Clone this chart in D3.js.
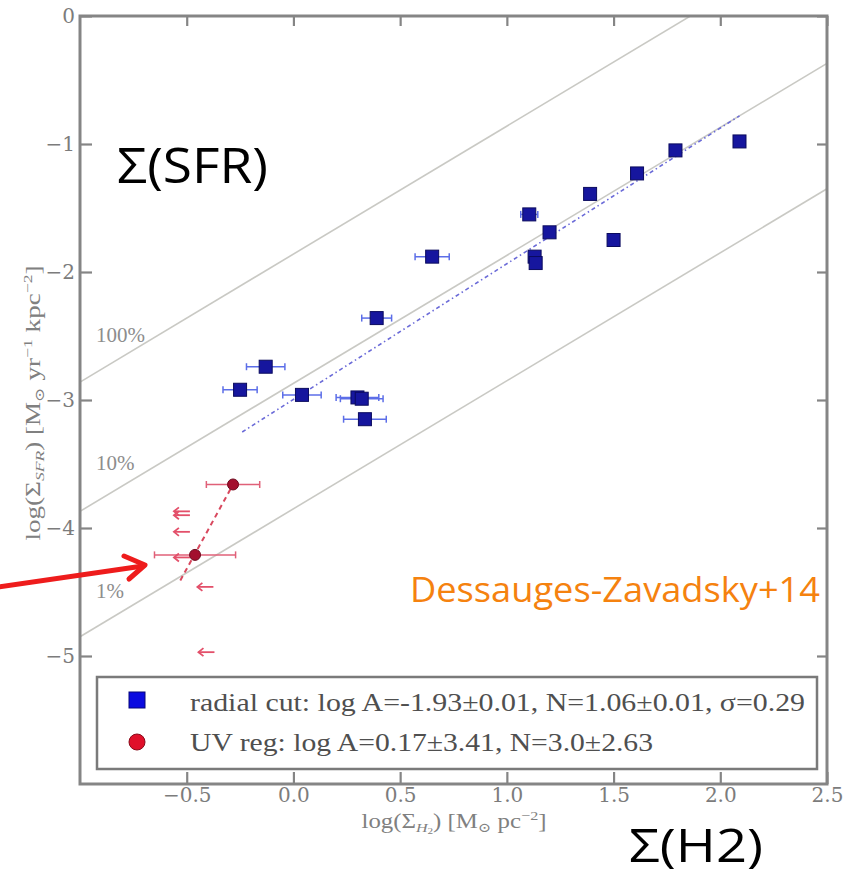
<!DOCTYPE html>
<html>
<head>
<meta charset="utf-8">
<script src="https://cdn.jsdelivr.net/npm/d3@7"></script>
<style>
  html, body { margin: 0; padding: 0; background: #ffffff; }
  svg { display: block; }
</style>
</head>
<body>
<svg id="chart" width="844" height="875"></svg>
<script>
// ---------------- data ----------------
const xTicks = [-0.5, 0.0, 0.5, 1.0, 1.5, 2.0, 2.5];
const yTicks = [0, -1, -2, -3, -4, -5];

// radial cut (blue squares)
const blueX    = [-0.25, -0.13, 0.04, 0.30, 0.32, 0.335, 0.39, 0.65, 1.105, 1.13, 1.135, 1.20, 1.39, 1.50, 1.61, 1.79, 2.09];
const blueY    = [-2.92, -2.74, -2.96, -2.98, -2.99, -3.15, -2.36, -1.88, -1.55, -1.88, -1.93, -1.69, -1.39, -1.75, -1.23, -1.05, -0.98];
const blueXErr = [0.08, 0.09, 0.09, 0.10, 0.10, 0.10, 0.07, 0.08, 0.04, 0.02, 0.02, 0, 0, 0, 0, 0, 0];

// UV regions (red circles)
const redX    = [-0.283, -0.461];
const redY    = [-3.66, -4.21];
const redXErr = [0.125, 0.19];

// UV regions upper limits (arrows pointing left)
const limX = [-0.485, -0.485, -0.485, -0.485, -0.375, -0.37];
const limY = [-3.87, -3.90, -4.03, -4.23, -4.46, -4.97];

// fits (end points)
const blueFitX = [-0.24, 2.09];
const blueFitY = [-3.25, -0.78];
const redFitX  = [-0.53, -0.283];
const redFitY  = [-4.41, -3.66];

// constant efficiency lines (slope 1): log SFR = log H2 + offset
const effLabels  = ["100%", "10%", "1%"];
const effOffsets = [-1.86, -2.87, -3.85];
const effLabelY  = [-2.55, -3.55, -4.55];

const legendLabels = [
  "radial cut: log A=-1.93\u00b10.01, N=1.06\u00b10.01, \u03c3=0.29",
  "UV reg: log A=0.17\u00b13.41, N=3.0\u00b12.63"
];

// ---------------- drawing ----------------
const svg = d3.select("#chart");
const X0 = 80, X1 = 827, Y0 = 16, Y1 = 784;
const x = d3.scaleLinear().domain([-1, 2.5]).range([X0, X1]);
const y = d3.scaleLinear().domain([-6, 0]).range([Y1, Y0]);

const serif = "'Liberation Serif', 'DejaVu Serif', serif";
const serifWide = "'DejaVu Serif', 'Liberation Serif', serif";
const gray = "#858585";

svg.append("defs").append("clipPath").attr("id", "clip")
  .append("rect").attr("x", X0).attr("y", Y0).attr("width", X1 - X0).attr("height", Y1 - Y0);

const plot = svg.append("g").attr("clip-path", "url(#clip)");

// efficiency lines
effOffsets.forEach((c) => {
  plot.append("line")
    .attr("x1", x(-1)).attr("y1", y(-1 + c))
    .attr("x2", x(2.5)).attr("y2", y(2.5 + c))
    .attr("stroke", "#c9c9c4").attr("stroke-width", 1.6);
});
effLabels.forEach((t, i) => {
  svg.append("text").attr("x", 96).attr("y", y(effLabelY[i]))
    .attr("font-family", serif).attr("font-size", 21).attr("fill", "#8d8d8d")
    .text(t);
});

// blue fit line (dash-dot)
plot.append("line")
  .attr("x1", x(blueFitX[0])).attr("y1", y(blueFitY[0]))
  .attr("x2", x(blueFitX[1])).attr("y2", y(blueFitY[1]))
  .attr("stroke", "#6b6bd8").attr("stroke-width", 1.6)
  .attr("stroke-dasharray", "4,3,1.5,3");

// red fit line (dashed)
plot.append("line")
  .attr("x1", x(redFitX[0])).attr("y1", y(redFitY[0]))
  .attr("x2", x(redFitX[1])).attr("y2", y(redFitY[1]))
  .attr("stroke", "#d8485e").attr("stroke-width", 2)
  .attr("stroke-dasharray", "5,4");

// blue error bars
const blueData = blueX.map((v, i) => ({x: v, y: blueY[i], e: blueXErr[i]}));
const bErr = plot.append("g").attr("stroke", "#5c6ee8").attr("stroke-width", 1.5);
blueData.filter(d => d.e > 0).forEach(d => {
  bErr.append("line").attr("x1", x(d.x - d.e)).attr("x2", x(d.x + d.e))
    .attr("y1", y(d.y)).attr("y2", y(d.y));
  [d.x - d.e, d.x + d.e].forEach(v => {
    bErr.append("line").attr("x1", x(v)).attr("x2", x(v))
      .attr("y1", y(d.y) - 3.5).attr("y2", y(d.y) + 3.5);
  });
});
// blue squares
plot.append("g").selectAll("rect").data(blueData).join("rect")
  .attr("x", d => x(d.x) - 6.5).attr("y", d => y(d.y) - 6.5)
  .attr("width", 13).attr("height", 13)
  .attr("fill", "#16169e").attr("stroke", "#0b0b5e").attr("stroke-width", 1);

// red error bars
const redData = redX.map((v, i) => ({x: v, y: redY[i], e: redXErr[i]}));
const rErr = plot.append("g").attr("stroke", "#e06078").attr("stroke-width", 1.5);
redData.forEach(d => {
  rErr.append("line").attr("x1", x(d.x - d.e)).attr("x2", x(d.x + d.e))
    .attr("y1", y(d.y)).attr("y2", y(d.y));
  [d.x - d.e, d.x + d.e].forEach(v => {
    rErr.append("line").attr("x1", x(v)).attr("x2", x(v))
      .attr("y1", y(d.y) - 3.5).attr("y2", y(d.y) + 3.5);
  });
});
// upper limits (arrows)
const limData = limX.map((v, i) => ({x: v, y: limY[i]}));
const lim = plot.append("g").attr("stroke", "#e3506a").attr("stroke-width", 1.8).attr("fill", "none");
limData.forEach(d => {
  const px = x(d.x), py = y(d.y);
  lim.append("line").attr("x1", px).attr("x2", px - 16).attr("y1", py).attr("y2", py);
  lim.append("path").attr("d", `M${px - 11},${py - 4} L${px - 16},${py} L${px - 11},${py + 4}`);
});
// red circles
plot.append("g").selectAll("circle").data(redData).join("circle")
  .attr("cx", d => x(d.x)).attr("cy", d => y(d.y)).attr("r", 5.5)
  .attr("fill", "#a3102e").attr("stroke", "#6e0a1e").attr("stroke-width", 1);

// ---------------- axes ----------------
function styleAxis(g) {
  g.select(".domain").remove();
  g.selectAll(".tick line").attr("stroke", gray).attr("stroke-width", 2.2);
  g.selectAll(".tick text").attr("font-family", serifWide).attr("font-size", 20).attr("fill", "#7c7c7c");
}
svg.append("g").attr("transform", `translate(0,${Y1})`)
  .call(d3.axisBottom(x).tickValues(xTicks).tickFormat(d3.format(".1f"))
    .tickSizeInner(-12).tickSizeOuter(0).tickPadding(4))
  .call(styleAxis);
svg.append("g").attr("transform", `translate(0,${Y0})`)
  .call(d3.axisTop(x).tickValues(xTicks).tickFormat("")
    .tickSizeInner(-10).tickSizeOuter(0))
  .call(styleAxis);
svg.append("g").attr("transform", `translate(${X0},0)`)
  .call(d3.axisLeft(y).tickValues(yTicks).tickFormat(d3.format("d"))
    .tickSizeInner(-12).tickSizeOuter(0).tickPadding(5))
  .call(styleAxis);
svg.append("g").attr("transform", `translate(${X1},0)`)
  .call(d3.axisRight(y).tickValues(yTicks).tickFormat("")
    .tickSizeInner(-10).tickSizeOuter(0))
  .call(styleAxis);

// frame
svg.append("rect").attr("x", X0).attr("y", Y0).attr("width", X1 - X0).attr("height", Y1 - Y0)
  .attr("fill", "none").attr("stroke", gray).attr("stroke-width", 3);

// axis titles
const xt = svg.append("text").attr("x", 454).attr("y", 828).attr("text-anchor", "middle")
  .attr("font-family", serif).attr("font-size", 20).attr("fill", "#808080")
  .attr("textLength", 185).attr("lengthAdjust", "spacingAndGlyphs");
xt.append("tspan").text("log(\u03a3");
xt.append("tspan").attr("font-size", 13).attr("font-style", "italic").attr("dy", 4).text("H");
xt.append("tspan").attr("font-size", 9).attr("dy", 2).text("2");
xt.append("tspan").attr("dy", -6).text(") [M");
xt.append("tspan").attr("font-size", 13).attr("dy", 4).text("\u2299");
xt.append("tspan").attr("dy", -4).text(" pc");
xt.append("tspan").attr("font-size", 13).attr("dy", -8).text("\u22122");
xt.append("tspan").attr("dy", 8).text("]");

const yt = svg.append("text").attr("transform", "translate(40,403) rotate(-90)")
  .attr("text-anchor", "middle")
  .attr("font-family", serif).attr("font-size", 20).attr("fill", "#808080")
  .attr("textLength", 275).attr("lengthAdjust", "spacingAndGlyphs");
yt.append("tspan").text("log(\u03a3");
yt.append("tspan").attr("font-size", 13).attr("font-style", "italic").attr("dy", 4).text("SFR");
yt.append("tspan").attr("dy", -4).text(") [M");
yt.append("tspan").attr("font-size", 13).attr("dy", 4).text("\u2299");
yt.append("tspan").attr("dy", -4).text(" yr");
yt.append("tspan").attr("font-size", 13).attr("dy", -8).text("\u22121");
yt.append("tspan").attr("dy", 8).text(" kpc");
yt.append("tspan").attr("font-size", 13).attr("dy", -8).text("\u22122");
yt.append("tspan").attr("dy", 8).text("]");

// legend
svg.append("rect").attr("x", 97).attr("y", 677).attr("width", 720).attr("height", 92)
  .attr("fill", "#ffffff").attr("stroke", "#7a7a7a").attr("stroke-width", 2.5);
svg.append("rect").attr("x", 129).attr("y", 692).attr("width", 16).attr("height", 16)
  .attr("fill", "#0a0ae0").attr("stroke", "#06067a").attr("stroke-width", 1);
svg.append("circle").attr("cx", 137).attr("cy", 742).attr("r", 8)
  .attr("fill", "#e0102a").attr("stroke", "#8a0a1a").attr("stroke-width", 1);
const legendLen = [615, 463];
legendLabels.forEach((t, i) => {
  svg.append("text").attr("x", 190).attr("y", 711 + i * 40)
    .attr("font-family", serif).attr("font-size", 25).attr("fill", "#4f4f4f")
    .attr("textLength", legendLen[i]).attr("lengthAdjust", "spacingAndGlyphs")
    .text(t);
});

// ---------------- annotations ----------------
const sans = "'Open Sans', Lato, 'Noto Sans', sans-serif";
svg.append("text").attr("x", 117).attr("y", 183).attr("font-family", sans)
  .attr("font-size", 49).attr("fill", "#000")
  .attr("textLength", 151).attr("lengthAdjust", "spacingAndGlyphs").text("\u03a3(SFR)");
svg.append("text").attr("x", 629).attr("y", 862).attr("font-family", sans)
  .attr("font-size", 46).attr("fill", "#000")
  .attr("textLength", 134).attr("lengthAdjust", "spacingAndGlyphs").text("\u03a3(H2)");
svg.append("text").attr("x", 410).attr("y", 602).attr("font-family", sans)
  .attr("font-size", 35).attr("fill", "#f5820f")
  .attr("textLength", 410).attr("lengthAdjust", "spacingAndGlyphs").text("Dessauges-Zavadsky+14");

// red arrow
const arrow = svg.append("g").attr("stroke", "#ee1c1c").attr("stroke-width", 5)
  .attr("fill", "none").attr("stroke-linecap", "round").attr("stroke-linejoin", "round");
arrow.append("line").attr("x1", -2).attr("y1", 587).attr("x2", 143).attr("y2", 566);
arrow.append("path").attr("d", "M124,556 L145,565 L129,579");
</script>
</body>
</html>
